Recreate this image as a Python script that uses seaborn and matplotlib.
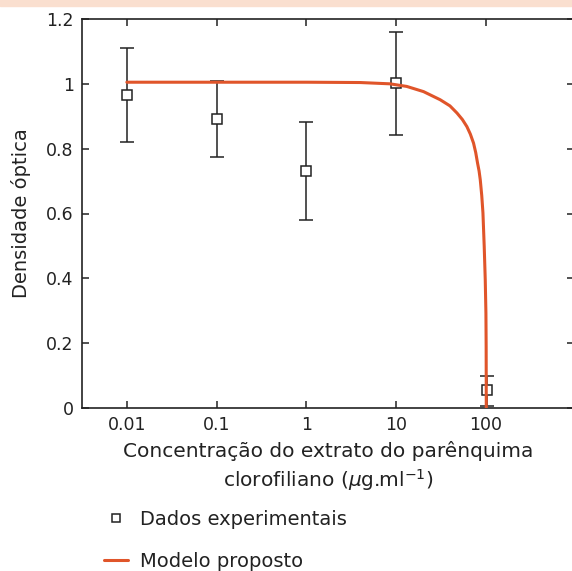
import matplotlib
matplotlib.use("Agg")
import matplotlib.pyplot as plt
import seaborn as sns
from matplotlib.lines import Line2D
from matplotlib.patches import Rectangle

# experimental points (concentration in ug/ml, optical density, error bars)
conc = [0.01, 0.1, 1, 10, 103]
density = [0.966, 0.892, 0.731, 1.003, 0.055]
err_low = [0.145, 0.117, 0.151, 0.160, 0.049]
err_high = [0.146, 0.118, 0.152, 0.157, 0.044]

# proposed model curve
model_x = [0.01, 0.1, 1, 4, 8.6, 13.2, 20.3, 31.1, 40, 47.9, 55, 61.8, 67.5,
           73.3, 77.5, 81.3, 84.5, 87.1, 90.5, 93.3, 96.4, 99.0, 100.7, 101.3,
           101.5, 101.6]
model_y = [1.005, 1.005, 1.005, 1.004, 1.0, 0.992, 0.976, 0.951, 0.932, 0.910,
           0.890, 0.868, 0.845, 0.817, 0.788, 0.755, 0.731, 0.704, 0.655, 0.602,
           0.498, 0.395, 0.293, 0.19, 0.09, 0.0]

xticks = [0.01, 0.1, 1, 10, 100]
xticklabels = ["0.01", "0.1", "1", "10", "100"]
yticks = [0, 0.2, 0.4, 0.6, 0.8, 1, 1.2]
yticklabels = ["0", "0.2", "0.4", "0.6", "0.8", "1", "1.2"]

sns.set_style("ticks")
plt.rcParams["font.family"] = ["DejaVu Sans"]
plt.rcParams["mathtext.fontset"] = "dejavusans"

fig = plt.figure(figsize=(5.72, 5.71), dpi=100)
fig.patches.append(Rectangle((0, 1 - 6 / 571), 1, 6 / 571, transform=fig.transFigure,
                             color="#fadfcf", zorder=0))
ax = fig.add_axes([82 / 572, 163 / 571, 492 / 572, 389 / 571])

ink = "#222222"
line_color = "#e0552a"
ax.errorbar(conc, density, yerr=[err_low, err_high], fmt="s", color=ink,
            ecolor=ink, elinewidth=1.1, capsize=4.8, capthick=1.1,
            markersize=6.5, markerfacecolor="white", markeredgecolor=ink,
            markeredgewidth=1.1, zorder=3)
sns.lineplot(x=model_x, y=model_y, color=line_color, linewidth=2.2, ax=ax,
             zorder=4, estimator=None, sort=False)

ax.set_xscale("log")
ax.set_xlim(10 ** -2.5, 10 ** 2.985)
ax.set_ylim(0, 1.2)
ax.set_xticks(xticks)
ax.set_xticklabels(xticklabels)
ax.xaxis.set_minor_locator(matplotlib.ticker.NullLocator())
ax.set_yticks(yticks)
ax.set_yticklabels(yticklabels)
ax.tick_params(direction="in", length=5, width=1.1, colors=ink,
               labelsize=12.5, top=True, right=True, labelcolor=ink, pad=6)
for s in ax.spines.values():
    s.set_linewidth(1.2)
    s.set_color(ink)

ax.set_ylabel("Densidade óptica", fontsize=14, color=ink, labelpad=11)
ax.set_xlabel("Concentração do extrato do parênquima\nclorofiliano ($\\mu$g.ml$^{\\mathregular{-1}}$)",
              fontsize=14.5, color=ink, linespacing=1.3, labelpad=5)

handles = [
    Line2D([], [], marker="s", linestyle="none", markersize=6, markerfacecolor="white",
           markeredgecolor=ink, markeredgewidth=1.1),
    Line2D([], [], color=line_color, linewidth=2.2),
]
fig.legend(handles, ["Dados experimentais", "Modelo proposto"], loc="upper left",
           bbox_to_anchor=(90 / 572, 1 - 496 / 571), frameon=False, fontsize=14,
           handlelength=1.25, handletextpad=0.6, labelspacing=1.2, labelcolor=ink,
           borderpad=0.2)

fig.savefig("out.png", dpi=100)
